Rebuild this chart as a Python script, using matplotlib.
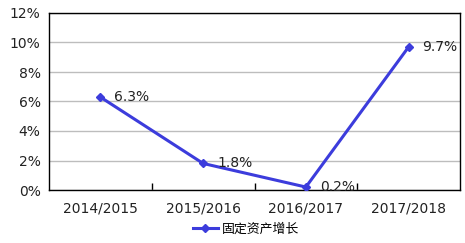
import matplotlib
matplotlib.use("Agg")
import matplotlib.pyplot as plt
from matplotlib.ticker import FixedLocator, NullFormatter

plt.rcParams['font.family'] = ['DejaVu Sans', 'Noto Sans CJK SC']

categories = ["2014/2015", "2015/2016", "2016/2017", "2017/2018"]
values = [6.3, 1.8, 0.2, 9.7]
series_name = "固定资产增长"
yticks = [0, 2, 4, 6, 8, 10, 12]

W, H = 465, 243
fig = plt.figure(figsize=(W/100, H/100), dpi=100)
ax = fig.add_axes([49/W, 1-190/H, (460-49)/W, (190-13)/H])

color = "#3c3cdc"
fs = 10
x = list(range(len(categories)))
ax.plot(x, values, color=color, lw=2.2, marker="D", ms=4.5, label=series_name, zorder=3)
for xi, v in zip(x, values):
    ax.annotate(f"{v}%", (xi, v), xytext=(10, 0), textcoords="offset points",
                fontsize=fs, va="center", ha="left", color="#222222")

ax.set_xlim(-0.5, len(categories)-0.5)
ax.set_ylim(0, 12)
ax.set_yticks(yticks)
ax.set_yticklabels([f"{t}%" for t in yticks], fontsize=fs, color="#222222")
ax.yaxis.grid(True, color="#bdbdbd", lw=1)
ax.set_axisbelow(True)
ax.tick_params(axis="y", length=0, pad=6)

ax.set_xticks(x)
ax.set_xticklabels(categories, fontsize=fs, color="#222222")
ax.tick_params(axis="x", which="major", length=0, pad=8)
ax.xaxis.set_minor_locator(FixedLocator([0.5, 1.5, 2.5]))
ax.xaxis.set_minor_formatter(NullFormatter())
ax.tick_params(axis="x", which="minor", direction="in", length=5, width=1, color="black")

for s in ax.spines.values():
    s.set_color("black")
    s.set_linewidth(1)

leg = fig.legend(loc="center", bbox_to_anchor=(246/W, 1-229/H), frameon=False,
                 handlelength=2.0, handletextpad=0.3,
                 prop={'family': ['Noto Sans CJK SC'], 'size': 9.3})

fig.savefig("out.png", dpi=100)
